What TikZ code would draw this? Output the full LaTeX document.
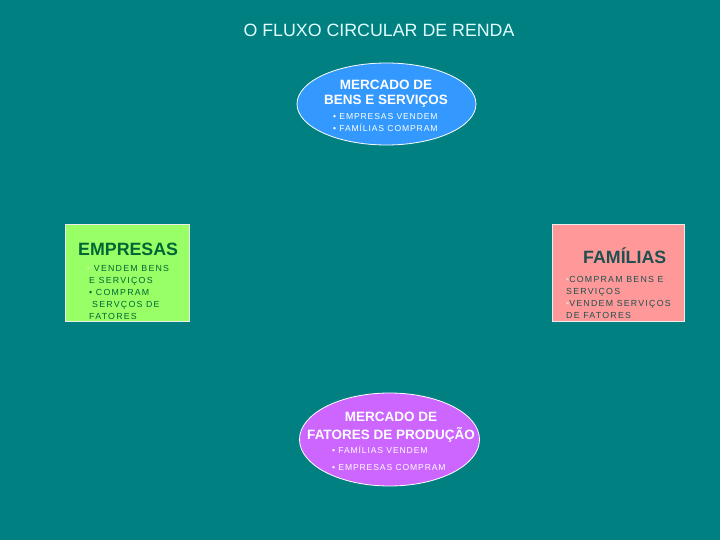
\documentclass[tikz,border=0pt]{standalone}
\usepackage{fontspec}
\setmainfont{Liberation Sans}
\newfontfamily\spaced[LetterSpace=10]{Liberation Sans}
\newfontfamily\spacedb[LetterSpace=14]{Liberation Sans}
\usetikzlibrary{shapes.geometric}
\definecolor{bg}{RGB}{0,128,128}
\definecolor{titlec}{RGB}{225,255,255}
\definecolor{blueell}{RGB}{51,153,255}
\definecolor{purpell}{RGB}{204,102,255}
\definecolor{greenbox}{RGB}{153,255,102}
\definecolor{pinkbox}{RGB}{255,153,153}
\definecolor{greentxt}{RGB}{0,102,51}
\definecolor{pinktxt}{RGB}{30,80,80}
\tikzset{
  ell/.style={ellipse, draw=white, line width=0.8pt, inner sep=0pt},
  box/.style={rectangle, draw=white!85!gray, line width=0.8pt, inner sep=0pt},
  bigw/.style={text=white, font=\fontsize{13.5}{15}\selectfont\bfseries, inner sep=0pt},
  smallw/.style={text=white, font=\spaced\fontsize{8.6}{10}\selectfont, inner sep=0pt, anchor=base west},
  boxhead/.style={font=\fontsize{17.8}{19}\selectfont\bfseries, inner sep=0pt, anchor=base west},
  boxtxt/.style={font=\spacedb\fontsize{8.8}{10}\selectfont, inner sep=0pt, anchor=base west},
}
\begin{document}
\begin{tikzpicture}[x=1pt,y=-1pt]
\fill[bg] (0,0) rectangle (720,540);
\useasboundingbox (0,0) rectangle (720,540);
% title
\node[text=titlec, font=\fontsize{17.8}{19}\selectfont, inner sep=0pt] (title) at (379,30) {O FLUXO CIRCULAR DE RENDA};
% top ellipse
\node[ell, fill=blueell, minimum width=179pt, minimum height=82pt] (bens) at (386.5,104) {};
\node[bigw] (b1) at (386,85) {MERCADO DE};
\node[bigw] (b2) at (386,101) {BENS E SERVIÇOS};
\node[smallw] (b3) at (333,119.5) {• EMPRESAS VENDEM};
\node[smallw] (b4) at (333,131.5) {• FAMÍLIAS COMPRAM};
% bottom ellipse
\node[ell, fill=purpell, minimum width=180pt, minimum height=93pt] (fat) at (389.5,439.5) {};
\node[bigw] (f1) at (391,417) {MERCADO DE};
\node[bigw] (f2) at (391,435) {FATORES DE PRODUÇÃO};
\node[smallw] (f3) at (332,453.5) {• FAMÍLIAS VENDEM};
\node[smallw] (f4) at (332,470.5) {• EMPRESAS COMPRAM};
% empresas
\node[box, fill=greenbox, minimum width=124pt, minimum height=97pt] (emp) at (127,272.5) {};
\node[boxhead, text=greentxt] (e0) at (78,255.5) {EMPRESAS};
\node[boxtxt, text=greentxt] (e1) at (87,271.5) {\textcolor{greenbox!60!white}{•} VENDEM BENS};
\node[boxtxt, text=greentxt] (e2) at (89,283.5) {E SERVIÇOS};
\node[boxtxt, text=greentxt] (e3) at (89,295.5) {• COMPRAM};
\node[boxtxt, text=greentxt] (e4) at (92,307.5) {SERVÇOS DE};
\node[boxtxt, text=greentxt] (e5) at (89,319.5) {FATORES};
% familias
\node[box, fill=pinkbox, minimum width=132pt, minimum height=97pt] (fam) at (618,272.5) {};
\node[boxhead, text=pinktxt] (m0) at (583,263.5) {FAMÍLIAS};
\node[boxtxt, text=pinktxt] (m1) at (566,282.5) {\textcolor{pinkbox!50!white}{•}COMPRAM BENS E};
\node[boxtxt, text=pinktxt] (m2) at (566,294.5) {SERVIÇOS};
\node[boxtxt, text=pinktxt] (m3) at (566,306.5) {\textcolor{pinkbox!50!white}{•}VENDEM SERVIÇOS};
\node[boxtxt, text=pinktxt] (m4) at (566,318.5) {DE FATORES};
\end{tikzpicture}
\end{document}
